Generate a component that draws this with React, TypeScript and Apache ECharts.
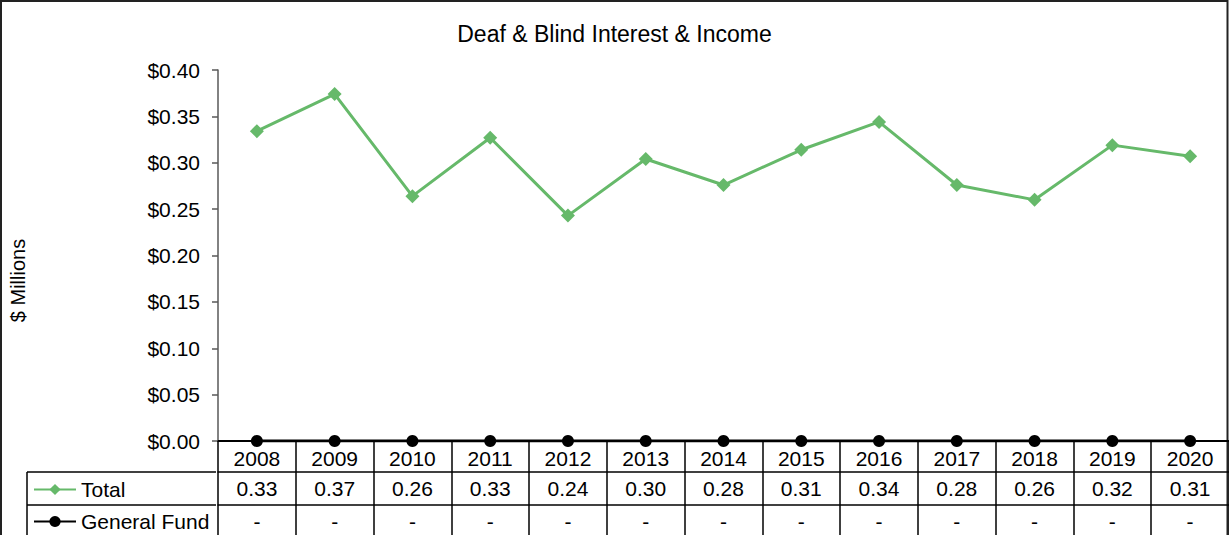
import React, { useEffect, useRef } from "react";
import * as echarts from "echarts";

const years = ["2008", "2009", "2010", "2011", "2012", "2013", "2014", "2015", "2016", "2017", "2018", "2019", "2020"];
const totalValues = [0.334, 0.374, 0.264, 0.327, 0.243, 0.304, 0.276, 0.314, 0.344, 0.276, 0.26, 0.319, 0.307];
const generalFundValues = [0, 0, 0, 0, 0, 0, 0, 0, 0, 0, 0, 0, 0];
const yTicks = { min: 0, max: 0.4, interval: 0.05 };

const FONT = "'Liberation Sans', Arial, sans-serif";
const GREEN = "#66b96a";

export default function App() {
  const ref = useRef<HTMLDivElement>(null);
  useEffect(() => {
    if (!ref.current) return;
    const chart = echarts.init(ref.current, undefined, { renderer: "svg" });
    const lbl = { fontFamily: FONT, fontSize: 21, color: "#000" };
    const legendBase = {
      orient: "horizontal",
      left: 33,
      itemWidth: 42,
      itemHeight: 14,
      padding: 0,
      textStyle: { ...lbl, lineHeight: 21 },
    };
    chart.setOption({
      animation: false,
      backgroundColor: "#fff",
      textStyle: { fontFamily: FONT },
      title: {
        text: "Deaf & Blind Interest & Income",
        left: "center",
        top: 22,
        padding: 0,
        textStyle: { fontFamily: FONT, fontSize: 23, fontWeight: "normal", color: "#000" },
      },
      legend: [
        { ...legendBase, top: 479, data: ["Total"] },
        { ...legendBase, top: 511, data: ["General Fund"] },
      ],
      grid: { left: 216, right: 0, top: 70, bottom: 94, containLabel: false },
      xAxis: [
        {
          type: "category",
          data: years,
          position: "bottom",
          boundaryGap: true,
          axisLine: { show: true, lineStyle: { color: "#000", width: 2 } },
          axisTick: { show: true, interval: 0, length: 94, lineStyle: { color: "#000", width: 1.5 } },
          axisLabel: { ...lbl, margin: 7, interval: 0 },
        },
        {
          type: "category",
          data: years,
          position: "bottom",
          offset: 31,
          boundaryGap: true,
          axisLine: { show: true, lineStyle: { color: "#000", width: 1.5 } },
          axisTick: { show: false },
          axisLabel: {
            ...lbl,
            margin: 6,
            interval: 0,
            formatter: (_v: string, i: number) => totalValues[i].toFixed(2),
          },
        },
        {
          type: "category",
          data: years,
          position: "bottom",
          offset: 64,
          boundaryGap: true,
          axisLine: { show: true, lineStyle: { color: "#000", width: 1.5 } },
          axisTick: { show: false },
          axisLabel: {
            ...lbl,
            margin: 6,
            interval: 0,
            formatter: (_v: string, i: number) => (generalFundValues[i] === 0 ? "-" : generalFundValues[i].toFixed(2)),
          },
        },
      ],
      yAxis: {
        type: "value",
        min: yTicks.min,
        max: yTicks.max,
        interval: yTicks.interval,
        name: "$ Millions",
        nameLocation: "middle",
        nameRotate: 90,
        nameGap: 190,
        nameTextStyle: { fontFamily: FONT, fontSize: 20, color: "#000", padding: [0, 50, 0, 0] },
        axisLine: { show: true, lineStyle: { color: "#595959", width: 1.5 } },
        axisTick: { show: true, length: 6, lineStyle: { color: "#595959", width: 1.5 } },
        splitLine: { show: false },
        axisLabel: { ...lbl, margin: 18, formatter: (v: number) => "$" + v.toFixed(2) },
      },
      series: [
        {
          name: "Total",
          type: "line",
          data: totalValues,
          symbol: "diamond",
          symbolSize: 14,
          itemStyle: { color: GREEN },
          lineStyle: { color: GREEN, width: 3 },
          z: 3,
        },
        {
          name: "General Fund",
          type: "line",
          data: generalFundValues,
          symbol: "circle",
          symbolSize: 12,
          itemStyle: { color: "#000" },
          lineStyle: { color: "#000", width: 3 },
          z: 4,
        },
      ],
      graphic: [
        { type: "line", shape: { x1: 27, y1: 472, x2: 216, y2: 472 }, style: { stroke: "#000", lineWidth: 1.5 } },
        { type: "line", shape: { x1: 27, y1: 505, x2: 216, y2: 505 }, style: { stroke: "#000", lineWidth: 1.5 } },
        { type: "line", shape: { x1: 27, y1: 472, x2: 27, y2: 535 }, style: { stroke: "#000", lineWidth: 1.5 } },
        {
          type: "rect",
          shape: { x: 1, y: 1, width: 1226.5, height: 540 },
          style: { fill: "none", stroke: "#222", lineWidth: 2 },
          silent: true,
        },
      ],
    });
    return () => chart.dispose();
  }, []);
  return <div ref={ref} style={{ position: "absolute", left: 0, top: 0, width: 1229, height: 535 }} />;
}
